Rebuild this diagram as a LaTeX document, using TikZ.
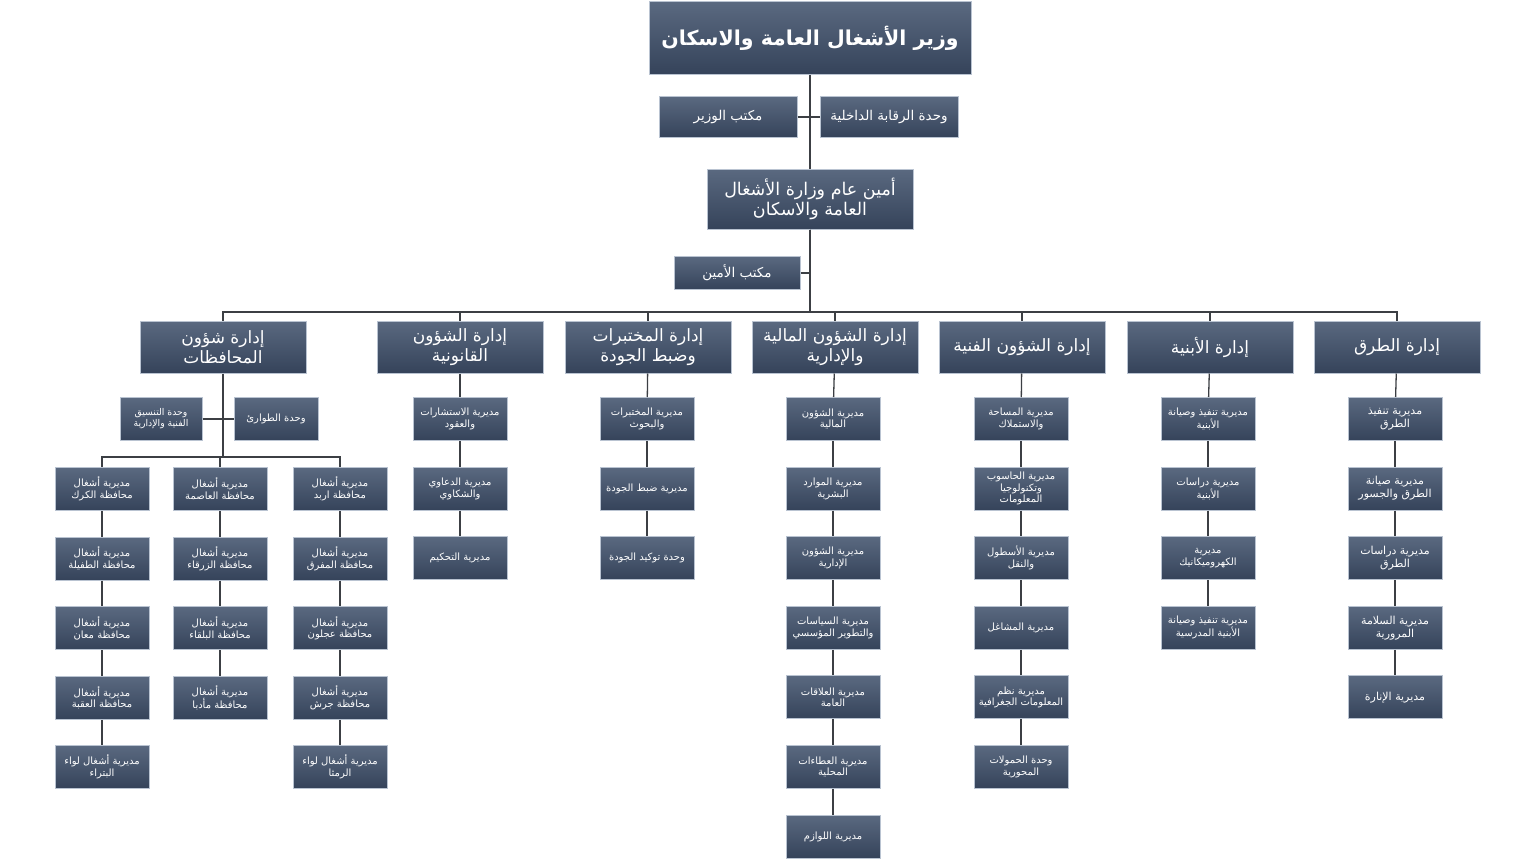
\documentclass[tikz,border=0pt]{standalone}
\usepackage{fontspec}
\usetikzlibrary{positioning}
\newfontfamily\arabicfont[Script=Arabic]{DejaVu Sans}
\TeXXeTstate=1
\definecolor{boxtop}{HTML}{5A6980}
\definecolor{boxbot}{HTML}{35435A}
\definecolor{boxedge}{HTML}{B9C3D1}
\definecolor{linkgray}{HTML}{3C3F44}
\tikzset{
  box/.style={draw=boxedge, line width=1pt, top color=boxtop, bottom color=boxbot,
    text=white, align=center, font=\arabicfont, inner sep=1pt},
  minbox/.style={box, minimum width=322pt, minimum height=73pt, font=\arabicfont\bfseries\fontsize{20.5}{24}\selectfont},
  sgbox/.style={box, minimum width=206pt, minimum height=60pt, font=\arabicfont\fontsize{17.5}{20}\selectfont},
  office/.style={box, minimum width=138pt, minimum height=41pt, font=\arabicfont\fontsize{13.5}{16}\selectfont},
  dept/.style={box, minimum width=166pt, minimum height=52pt, font=\arabicfont\fontsize{17}{19.5}\selectfont},
  sub/.style={box, minimum width=94pt, minimum height=43pt, font=\arabicfont\fontsize{10}{11.8}\selectfont},
  link/.style={draw=linkgray, line width=1.3pt}
}
\begin{document}
\begin{tikzpicture}[x=1pt, y=-1pt]
  \useasboundingbox[fill=white] (0,0) rectangle (1536,864);

  % --- Top of the ministry ---
  \node[minbox] (min) at (810,38) {\beginR وزير الأشغال العامة والاسكان\endR};
  \node[office] (wo) at (728,117) {\beginR مكتب الوزير\endR};
  \node[office] (ria) at (889,117) {\beginR وحدة الرقابة الداخلية\endR};
  \node[sgbox] (sg) at (810,199) {\beginR أمين عام وزارة الأشغال\endR\\\beginR العامة والاسكان\endR};
  \node[office, minimum width=126pt, minimum height=33pt] (ao) at (737,273) {\beginR مكتب الأمين\endR};
  \coordinate (bus) at (810,312);

  % --- Departments ---
  \node[dept] (gov) at (223,347) {\beginR إدارة شؤون\endR\\\beginR المحافظات\endR};
  \node[dept] (leg) at (460,347) {\beginR إدارة الشؤون\endR\\\beginR القانونية\endR};
  \node[dept] (lab) at (648,347) {\beginR إدارة المختبرات\endR\\\beginR وضبط الجودة\endR};
  \node[dept] (fin) at (835,347) {\beginR إدارة الشؤون المالية\endR\\\beginR والإدارية\endR};
  \node[dept] (tech) at (1022,347) {\beginR إدارة الشؤون الفنية\endR};
  \node[dept] (bld) at (1210,347) {\beginR إدارة الأبنية\endR};
  \node[dept] (road) at (1397,347) {\beginR إدارة الطرق\endR};

  % --- Directorates under each department ---
  \foreach \t [count=\i] in {{\beginR مديرية الاستشارات\endR\\\beginR والعقود\endR},
      {\beginR مديرية الدعاوي\endR\\\beginR والشكاوي\endR},
      {\beginR مديرية التحكيم\endR}}
    \node[sub] (leg\i) at (460,{419+69.6*(\i-1)}) {\t};
  \foreach \t [count=\i] in {{\beginR مديرية المختبرات\endR\\\beginR والبحوث\endR},
      {\beginR مديرية ضبط الجودة\endR},
      {\beginR وحدة توكيد الجودة\endR}}
    \node[sub] (lab\i) at (647,{419+69.6*(\i-1)}) {\t};
  \foreach \t [count=\i] in {{\beginR مديرية الشؤون\endR\\\beginR المالية\endR},
      {\beginR مديرية الموارد\endR\\\beginR البشرية\endR},
      {\beginR مديرية الشؤون\endR\\\beginR الإدارية\endR},
      {\beginR مديرية السياسات\endR\\\beginR والتطوير المؤسسي\endR},
      {\beginR مديرية العلاقات\endR\\\beginR العامة\endR},
      {\beginR مديرية العطاءات\endR\\\beginR المحلية\endR},
      {\beginR مديرية اللوازم\endR}}
    \node[sub] (fin\i) at (833,{419+69.6*(\i-1)}) {\t};
  \foreach \t [count=\i] in {{\beginR مديرية المساحة\endR\\\beginR والاستملاك\endR},
      {\beginR مديرية الحاسوب\endR\\\beginR وتكنولوجيا\endR\\\beginR المعلومات\endR},
      {\beginR مديرية الأسطول\endR\\\beginR والنقل\endR},
      {\beginR مديرية المشاغل\endR},
      {\beginR مديرية نظم\endR\\\beginR المعلومات الجغرافية\endR},
      {\beginR وحدة الحمولات\endR\\\beginR المحورية\endR}}
    \node[sub] (tech\i) at (1021,{419+69.6*(\i-1)}) {\t};
  \foreach \t [count=\i] in {{\beginR مديرية تنفيذ وصيانة\endR\\\beginR الأبنية\endR},
      {\beginR مديرية دراسات\endR\\\beginR الأبنية\endR},
      {\beginR مديرية\endR\\\beginR الكهروميكانيك\endR},
      {\beginR مديرية تنفيذ وصيانة\endR\\\beginR الأبنية المدرسية\endR}}
    \node[sub] (bld\i) at (1208,{419+69.6*(\i-1)}) {\t};
  \foreach \t [count=\i] in {{\beginR مديرية تنفيذ\endR\\\beginR الطرق\endR},
      {\beginR مديرية صيانة\endR\\\beginR الطرق والجسور\endR},
      {\beginR مديرية دراسات\endR\\\beginR الطرق\endR},
      {\beginR مديرية السلامة\endR\\\beginR المرورية\endR},
      {\beginR مديرية الإنارة\endR}}
    \node[sub, font=\arabicfont\fontsize{11}{13}\selectfont] (road\i) at (1395,{419+69.6*(\i-1)}) {\t};

  % --- Governorates ---
  \node[sub, minimum width=82pt, font=\arabicfont\fontsize{9.3}{11}\selectfont] (coord) at (161,419) {\beginR وحدة التنسيق\endR\\\beginR الفنية والإدارية\endR};
  \node[sub, minimum width=84pt] (emerg) at (276,419) {\beginR وحدة الطوارئ\endR};
  \coordinate (gbus) at (223,457);
  \foreach \t [count=\i] in {الكرك,الطفيلة,معان,العقبة}
    \node[sub] (ga\i) at (102,{489+69.6*(\i-1)}) {\beginR مديرية أشغال\endR\\\beginR محافظة \t\endR};
  \node[sub] (ga5) at (102,767) {\beginR مديرية أشغال لواء\endR\\\beginR البتراء\endR};
  \foreach \t [count=\i] in {العاصمة,الزرقاء,البلقاء,مأدبا}
    \node[sub] (gb\i) at (220,{489+69.6*(\i-1)}) {\beginR مديرية أشغال\endR\\\beginR محافظة \t\endR};
  \foreach \t [count=\i] in {اربد,المفرق,عجلون,جرش}
    \node[sub] (gc\i) at (340,{489+69.6*(\i-1)}) {\beginR مديرية أشغال\endR\\\beginR محافظة \t\endR};
  \node[sub] (gc5) at (340,767) {\beginR مديرية أشغال لواء\endR\\\beginR الرمثا\endR};

  % --- Connectors ---
  \draw[link] (min) -- (sg);
  \draw[link] (wo.east) -- (wo.east -| min);
  \draw[link] (ria.west) -- (ria.west -| min);
  \draw[link] (ao.east) -- (ao.east -| sg);
  \foreach \d in {gov,leg,lab,fin,tech,bld,road}
    \draw[link] (sg.south) -- (bus) -| (\d.north);
  \foreach \d in {leg,lab,fin,tech,bld,road}
    \draw[link] (\d) -- (\d1);
  \foreach \i/\j in {1/2,2/3}
    \draw[link] (leg\i) -- (leg\j) (lab\i) -- (lab\j);
  \foreach \i/\j in {1/2,2/3,3/4,4/5,5/6,6/7}
    \draw[link] (fin\i) -- (fin\j);
  \foreach \i/\j in {1/2,2/3,3/4,4/5,5/6}
    \draw[link] (tech\i) -- (tech\j);
  \foreach \i/\j in {1/2,2/3,3/4}
    \draw[link] (bld\i) -- (bld\j) (gb\i) -- (gb\j);
  \foreach \i/\j in {1/2,2/3,3/4,4/5}
    \draw[link] (road\i) -- (road\j) (ga\i) -- (ga\j) (gc\i) -- (gc\j);
  \draw[link] (gov.south) -- (gbus);
  \draw[link] (coord.east) -- (coord.east -| gov);
  \draw[link] (emerg.west) -- (emerg.west -| gov);
  \foreach \g in {ga1,gb1,gc1}
    \draw[link] (gbus) -| (\g.north);
\end{tikzpicture}
\end{document}
